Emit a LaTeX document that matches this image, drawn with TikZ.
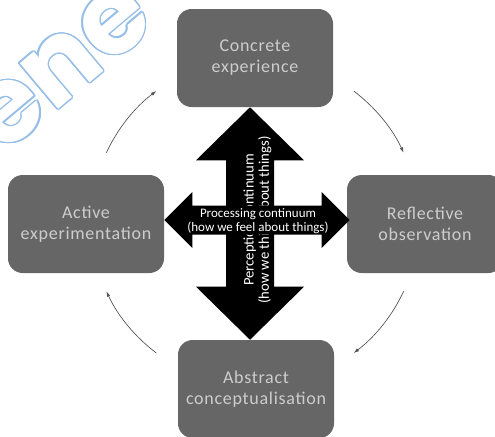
\documentclass[tikz,border=0pt]{standalone}
\usepackage{fontspec}
\usepackage{tikz}
\usetikzlibrary{arrows.meta,calc,positioning}
\usepackage{contour}
\setmainfont{Carlito}
\newfontfamily\boxfont{Carlito}[LetterSpace=4]
\newfontfamily\markfont{Poppins}
\definecolor{boxgrey}{RGB}{102,102,102}
\definecolor{labelgrey}{RGB}{205,205,205}
\definecolor{cyclegrey}{RGB}{80,80,80}
\definecolor{markblue}{RGB}{150,190,230}
\contourlength{1pt}

\begin{document}
\begin{tikzpicture}[x=0.75pt,y=0.75pt,yscale=-1,xscale=1,
    stage/.style={fill=boxgrey, rounded corners=11pt, minimum width=117pt, minimum height=73.5pt,
        text=labelgrey, align=center, font=\boxfont\fontsize{13.5}{15.75}\selectfont},
    cyclearrow/.style={draw=cyclegrey, line width=0.5pt, -{Latex[length=4pt,width=2.6pt]}},
    bigarrow/.style={fill=black},
    axislabel/.style={text=white, align=center, font=\fontsize{9.75}{10.5}\selectfont}]
    \useasboundingbox (0,0) rectangle (495,436);
    \clip (0,0) rectangle (495,436);

    % Text Node
    \node[rotate=40, text=white, font=\markfont\bfseries\fontsize{80}{80}\selectfont] (mark) at (62,68)
        {\contour{markblue}{ene}};

    %Shape: Rounded Rectangle
    \node[stage] (concrete) at (255,58) {Concrete\\experience};
    %Shape: Rounded Rectangle
    \node[stage] (active) at (86,224) {Active\\experimentation};
    %Shape: Rounded Rectangle
    \node[stage] (reflective) at (425,224) {Reflective\\observation};
    %Shape: Rounded Rectangle
    \node[stage] (abstract) at (256,389) {Abstract\\conceptualisation};

    \coordinate (mid) at (250,220);
    \coordinate (cyc) at (255,222);

    %Shape: Up Down Arrow
    \fill[bigarrow] (concrete.south -| mid) -- ++(54,53) -- ++(-30,0)
        -- ($(abstract.north -| mid)+(24,-53)$) -- ++(30,0) -- (abstract.north -| mid)
        -- ++(-54,-53) -- ++(30,0) -- ($(concrete.south -| mid)+(-24,53)$) -- ++(-30,0) -- cycle;
    % Text Node
    \node[axislabel, rotate=90, font=\fontsize{11}{11.5}\selectfont] (perception) at (257.5,220)
        {Perception continuum\\(how we think about things)};

    %Shape: Left Right Arrow
    \fill[bigarrow] (active.east |- mid) -- ++(28,-28) -- ++(0,13.5)
        -- ($(reflective.west |- mid)+(-25,-14.5)$) -- ++(0,-13.5) -- ($(reflective.west |- mid)+(3,0)$)
        -- ++(-28,28) -- ++(0,-13.5) -- ($(active.east |- mid)+(28,14.5)$) -- ++(0,13.5) -- cycle;
    % Text Node
    \node[axislabel] (processing) at (258,221) {Processing continuum\\(how we feel about things)};

    %Curve Lines
    \draw[cyclearrow] ($(cyc)+(-155:164)$) arc[start angle=-155, end angle=-127, radius=164];
    %Curve Lines
    \draw[cyclearrow] ($(cyc)+(-53:164)$) arc[start angle=-53, end angle=-25, radius=164];
    %Curve Lines
    \draw[cyclearrow] ($(cyc)+(25:164)$) arc[start angle=25, end angle=53, radius=164];
    %Curve Lines
    \draw[cyclearrow] ($(cyc)+(127:164)$) arc[start angle=127, end angle=155, radius=164];

\end{tikzpicture}
\end{document}
